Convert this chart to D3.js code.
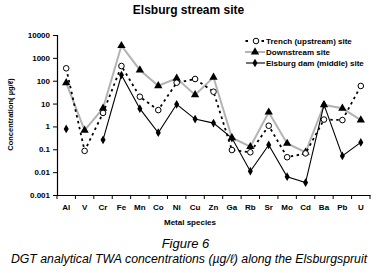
<!DOCTYPE html>
<html><head><meta charset="utf-8">
<script src="https://cdn.jsdelivr.net/npm/d3@7"></script>
<style>body{margin:0;background:#fff}svg{display:block;font-family:"Liberation Sans",Arial,sans-serif}</style>
</head><body><svg id="c" width="379" height="273"></svg>
<script>
const categories = ["Al","V","Cr","Fe","Mn","Co","Ni","Cu","Zn","Ga","Rb","Sr","Mo","Cd","Ba","Pb","U"];
const trench     = [350, 0.085, 3.9, 440, 20, 5.2, 82, 119, 33, 0.093, 0.074, 1.07, 0.045, 0.066, 2.0, 1.9, 59];
const downstream = [81, 0.68, 6.2, 3400, 295, 60, 127, 24, 141, 0.32, 0.13, 4.2, 0.18, 0.074, 8.7, 6.2, 1.9];
const elsburg    = [0.78, null, 0.26, 178, 6, 0.53, 9.3, 2.1, 1.4, 0.31, 0.011, 0.155, 0.0063, 0.0035, 9.0, 0.051, 0.2];
const yTicks = [0.001, 0.01, 0.1, 1, 10, 100, 1000, 10000];
const yTickLabels = ["0.001","0.01","0.1","1","10","100","1000","10000"];
const seriesNames = ["Trench (upstream) site","Downstream site","Elsburg dam (middle) site"];

const svg = d3.select("#c");
const x = d3.scaleBand().domain(categories).range([57, 370]);
const y = d3.scaleLog().domain([0.001, 10000]).range([195, 35]);
const cx = d => x(d) + x.bandwidth()/2;

// title
svg.append("text").attr("x",188.5).attr("y",13.5).attr("text-anchor","middle")
  .attr("font-size",12).attr("font-weight","bold").text("Elsburg stream site");

// y axis
const ya = svg.append("g").attr("transform","translate(57,0)")
  .call(d3.axisLeft(y).tickValues(yTicks).tickFormat((d,i)=>yTickLabels[i]).tickSize(4).tickPadding(3));
ya.select(".domain").attr("stroke","#000").attr("stroke-width",1.2);
ya.selectAll("text").attr("font-size",8).attr("font-weight","bold").attr("font-family","Liberation Sans, Arial, sans-serif");

// x axis
const xa = svg.append("g").attr("transform","translate(0,195)")
  .call(d3.axisBottom(x).tickSize(0).tickPadding(9));
xa.select(".domain").attr("stroke","#000").attr("stroke-width",1.2);
xa.selectAll("text").attr("font-size",8).attr("font-weight","bold").attr("font-family","Liberation Sans, Arial, sans-serif");
// boundary ticks
const bounds = categories.map(c=>x(c)).concat([x.range()[1]]);
svg.append("g").selectAll("line").data(bounds).join("line")
  .attr("x1",d=>d).attr("x2",d=>d).attr("y1",195).attr("y2",199).attr("stroke","#000");

svg.append("text").attr("x",190).attr("y",224.5).attr("text-anchor","middle")
  .attr("font-size",8).attr("font-weight","bold").text("Metal species");
svg.append("text").attr("transform","translate(12.5,114.5) rotate(-90)").attr("text-anchor","middle")
  .attr("font-size",7.5).attr("font-weight","bold").text("Concentration( µg/ℓ)");

// lines
const line = d3.line().defined(d=>d[1]!=null).x(d=>cx(d[0])).y(d=>y(d[1]));
const pts = arr => categories.map((c,i)=>[c,arr[i]]);
svg.append("path").datum(pts(downstream)).attr("d",line).attr("fill","none").attr("stroke","#b3b3b3").attr("stroke-width",2);
svg.append("path").datum(pts(trench)).attr("d",line).attr("fill","none").attr("stroke","#000").attr("stroke-width",1.8).attr("stroke-dasharray","2.5,3.5");
svg.append("path").datum(pts(elsburg)).attr("d",line).attr("fill","none").attr("stroke","#000").attr("stroke-width",1.1);

const tri = d3.symbol().type(d3.symbolTriangle).size(30);
const dia = d3.symbol().type(d3.symbolDiamond).size(22);
svg.append("g").selectAll("path").data(pts(downstream).filter(d=>d[1]!=null)).join("path")
  .attr("d",tri).attr("transform",d=>`translate(${cx(d[0])},${y(d[1])})`).attr("fill","#000");
svg.append("g").selectAll("circle").data(pts(trench).filter(d=>d[1]!=null)).join("circle")
  .attr("cx",d=>cx(d[0])).attr("cy",d=>y(d[1])).attr("r",2.8).attr("fill","#fff").attr("stroke","#000").attr("stroke-width",1);
svg.append("g").selectAll("path").data(pts(elsburg).filter(d=>d[1]!=null)).join("path")
  .attr("d",dia).attr("transform",d=>`translate(${cx(d[0])},${y(d[1])})`).attr("fill","#000");

// legend
const lg = svg.append("g");
const ly = [41, 52, 63];
lg.append("line").attr("x1",245).attr("x2",265).attr("y1",ly[0]).attr("y2",ly[0]).attr("stroke","#000").attr("stroke-width",1.8).attr("stroke-dasharray","2.5,5.5").attr("stroke-dashoffset",-0.5);
lg.append("circle").attr("cx",256).attr("cy",ly[0]).attr("r",2.8).attr("fill","#fff").attr("stroke","#000");
lg.append("line").attr("x1",245).attr("x2",265).attr("y1",ly[1]).attr("y2",ly[1]).attr("stroke","#b3b3b3").attr("stroke-width",2);
lg.append("path").attr("d",tri).attr("transform",`translate(255,${ly[1]})`).attr("fill","#000");
lg.append("line").attr("x1",246).attr("x2",265).attr("y1",ly[2]).attr("y2",ly[2]).attr("stroke","#000").attr("stroke-width",1.1);
lg.append("path").attr("d",dia).attr("transform",`translate(255,${ly[2]})`).attr("fill","#000");
lg.selectAll("text").data(seriesNames).join("text").attr("x",266).attr("y",(d,i)=>ly[i]+3)
  .attr("font-size",8).attr("font-weight","bold").text(d=>d);

// caption
svg.append("text").attr("x",185.5).attr("y",248.3).attr("text-anchor","middle")
  .attr("font-size",13).attr("font-style","italic").text("Figure 6");
svg.append("text").attr("x",189).attr("y",263).attr("text-anchor","middle")
  .attr("font-size",12.3).attr("font-style","italic").text("DGT analytical TWA concentrations (µg/ℓ) along the Elsburgspruit");
</script></body></html>
